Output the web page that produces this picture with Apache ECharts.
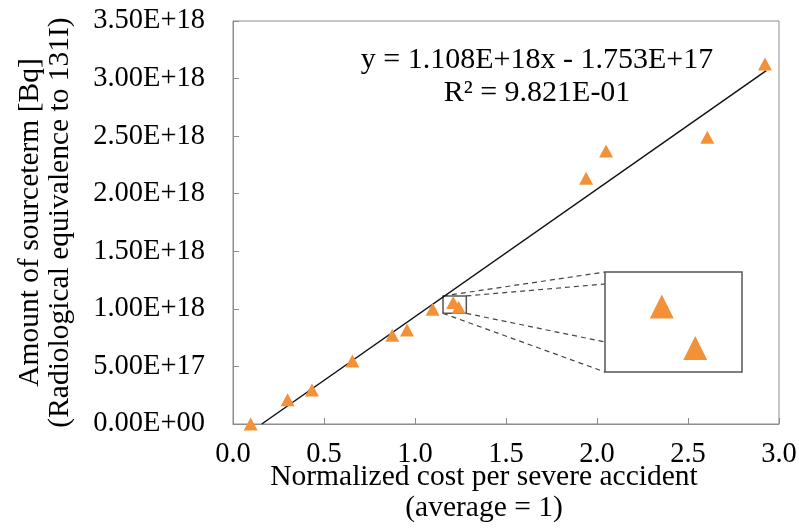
<!DOCTYPE html>
<html>
<head>
<meta charset="utf-8">
<script src="https://cdn.jsdelivr.net/npm/echarts@6/dist/echarts.min.js"></script>
<style>
	html, body { margin: 0; padding: 0; background: #fff; }
	#main { width: 799px; height: 531px; }
</style>
</head>
<body>
<div id="main"></div>
<script>
// normalized cost per severe accident (x) and sourceterm in Bq (y)
var costData = [0.097, 0.30, 0.434, 0.656, 0.875, 0.956, 1.097, 1.21, 1.24, 1.94, 2.05, 2.606, 2.923];
var termData = [0.0, 2.1e17, 2.95e17, 5.47e17, 7.7e17, 8.16e17, 9.96e17, 1.055e18, 1.015e18, 2.134e18, 2.371e18, 2.49e18, 3.127e18];

// trendline end points
var trendX = [0.158, 2.93];
var trendY = [0.0, 3.07e18];

var xTicks = [0, 0.5, 1.0, 1.5, 2.0, 2.5, 3.0];
var yTicks = [0, 5e17, 1e18, 1.5e18, 2e18, 2.5e18, 3e18, 3.5e18];

var eqLines = ['y = 1.108E+18x - 1.753E+17', 'R\u00b2 = 9.821E-01'];

// zoomed region shown in the inset
var zoomX = [1.154, 1.282];
var zoomY = [0.961e18, 1.112e18];
var insetX = [1.159, 1.282];
var insetY = [0.992e18, 1.088e18];

var serif = "'Liberation Serif', 'Times New Roman', 'DejaVu Serif', serif";
var gray = '#8c8c8c';
var orange = '#F39139';

function sci(v) {
	var s = Number(v).toExponential(2).toUpperCase();
	return s.replace(/E([+-])(\d)$/, 'E$10$2');
}

var points = [];
for (var i = 0; i < costData.length; i++) {
	points.push([costData[i], termData[i]]);
}
var trend = [];
for (var j = 0; j < trendX.length; j++) {
	trend.push([trendX[j], trendY[j]]);
}

var myChart = echarts.init(document.getElementById('main'));
var option = {
	animation: false,
	textStyle: { fontFamily: serif },
	grid: [{
		left: 233,
		right: 20,
		top: 21,
		bottom: 107,
		show: true,
		borderColor: gray,
		borderWidth: 1,
		containLabel: false,
		outerBoundsMode: 'none'
	}, {
		left: 605,
		top: 272,
		width: 137,
		height: 100,
		show: true,
		borderColor: '#555',
		borderWidth: 1.5,
		containLabel: false,
		outerBoundsMode: 'none'
	}],
	xAxis: [{
		gridIndex: 0,
		type: 'value',
		min: xTicks[0],
		max: xTicks[xTicks.length - 1],
		interval: 0.5,
		name: 'Normalized cost per severe accident\n(average = 1)',
		nameLocation: 'middle',
		nameGap: 38,
		nameMoveOverlap: false,
		nameTextStyle: {
			fontFamily: serif,
			fontSize: 29.5,
			color: '#000',
			lineHeight: 31,
			padding: [0, 44, 0, 0]
		},
		axisLine: { lineStyle: { color: gray } },
		axisTick: { inside: true, length: 6, lineStyle: { color: gray } },
		splitLine: { show: false },
		axisLabel: {
			margin: 16,
			fontFamily: serif,
			fontSize: 28.5,
			color: '#000',
			formatter: function(v) { return v.toFixed(1); }
		}
	}, {
		gridIndex: 1,
		type: 'value',
		min: insetX[0],
		max: insetX[1],
		show: false
	}],
	yAxis: [{
		gridIndex: 0,
		type: 'value',
		min: yTicks[0],
		max: yTicks[yTicks.length - 1],
		interval: 5e17,
		name: 'Amount of sourceterm [Bq]\n(Radiological equivalence to 131I)',
		nameLocation: 'middle',
		nameGap: 158,
		nameRotate: 90,
		nameMoveOverlap: false,
		nameTextStyle: {
			fontFamily: serif,
			fontSize: 29.5,
			color: '#000',
			lineHeight: 30
		},
		axisLine: { show: true, lineStyle: { color: gray } },
		axisTick: { show: true, inside: true, length: 6, lineStyle: { color: gray } },
		splitLine: { show: false },
		axisLabel: {
			margin: 28,
			fontFamily: serif,
			fontSize: 28.5,
			color: '#000',
			formatter: sci
		}
	}, {
		gridIndex: 1,
		type: 'value',
		min: insetY[0],
		max: insetY[1],
		show: false
	}],
	series: [{
		name: 'trend',
		type: 'line',
		xAxisIndex: 0,
		yAxisIndex: 0,
		data: trend,
		showSymbol: false,
		lineStyle: { color: '#111', width: 1.5 },
		z: 2
	}, {
		name: 'data',
		type: 'scatter',
		xAxisIndex: 0,
		yAxisIndex: 0,
		data: points,
		symbol: 'triangle',
		symbolSize: [14, 13],
		itemStyle: { color: orange, opacity: 1 },
		z: 3,
		markArea: {
			silent: true,
			itemStyle: { color: 'rgba(0,0,0,0)', borderColor: '#555', borderWidth: 1.5 },
			data: [[{ coord: [zoomX[0], zoomY[1]] }, { coord: [zoomX[1], zoomY[0]] }]]
		}
	}, {
		name: 'inset',
		type: 'scatter',
		xAxisIndex: 1,
		yAxisIndex: 1,
		data: points,
		symbol: 'triangle',
		symbolSize: [24, 24],
		itemStyle: { color: orange, opacity: 1 },
		clip: true,
		z: 3
	}]
};
myChart.setOption(option);

// equation label and dashed connector lines
var g1 = myChart.convertToPixel({ gridIndex: 0 }, [zoomX[0], zoomY[1]]);
var g2 = myChart.convertToPixel({ gridIndex: 0 }, [zoomX[1], zoomY[0]]);
var i1 = myChart.convertToPixel({ gridIndex: 1 }, [insetX[0], insetY[1]]);
var i2 = myChart.convertToPixel({ gridIndex: 1 }, [insetX[0], insetY[0]]);
var dash = { stroke: '#444', lineWidth: 1.2, lineDash: [5, 4] };
var links = [
	[g1[0], g1[1], i1[0], i1[1]],
	[g2[0], g1[1], i1[0], i1[1] + 12],
	[g2[0], g2[1], i2[0], i2[1] - 30],
	[g1[0], g2[1], i2[0], i2[1]]
];
var graphics = [];
for (var k = 0; k < links.length; k++) {
	graphics.push({
		type: 'line',
		silent: true,
		shape: { x1: links[k][0], y1: links[k][1], x2: links[k][2], y2: links[k][3] },
		style: dash
	});
}
graphics.push({
	type: 'text',
	x: 537,
	y: 44,
	style: {
		text: eqLines.join('\n'),
		fontFamily: serif,
		fontSize: 30,
		fill: '#000',
		align: 'center',
		lineHeight: 33
	}
});
myChart.setOption({ graphic: graphics });

window.addEventListener('resize', function() {
	myChart.resize();
});
</script>
</body>
</html>
